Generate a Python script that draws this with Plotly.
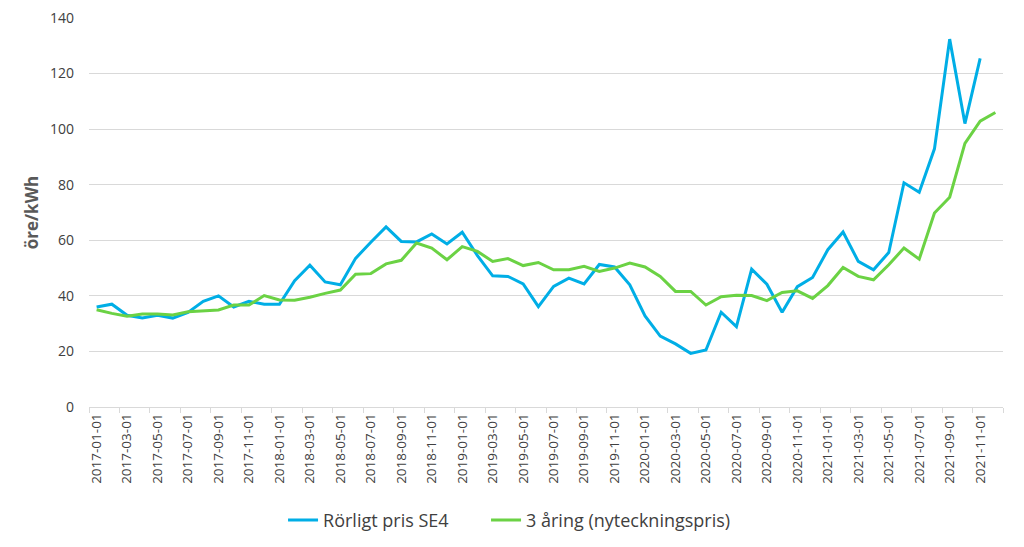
import plotly.graph_objects as go
import pandas as pd

months = pd.date_range("2017-01-01", "2021-12-01", freq="MS").strftime("%Y-%m-%d").tolist()

rorligt = [36, 37, 33, 32, 33, 32, 34, 38, 40, 36, 38, 37,
           37, 45.5, 51, 45, 44, 53.5, 59.3, 64.8, 59.6, 59.4, 62.3, 58.7,
           62.9, 54.5, 47.2, 47, 44.3, 36.1, 43.4, 46.4, 44.3, 51.3, 50.4, 44,
           32.8, 25.5, 22.7, 19.3, 20.5, 34.1, 28.9, 49.6, 44.2, 34.1, 43.3, 46.6,
           56.6, 63, 52.4, 49.4, 55.6, 80.7, 77.3, 92.9, 132.4, 102, 125.5]

tre_aring = [35, 33.7, 32.7, 33.5, 33.5, 33.1, 34.3, 34.7, 34.9, 36.7, 36.7, 40.1,
             38.5, 38.4, 39.5, 40.9, 42.1, 47.8, 48, 51.5, 52.8, 59, 57.2, 53,
             57.7, 56, 52.4, 53.4, 50.9, 52, 49.4, 49.4, 50.6, 48.8, 50, 51.8,
             50.4, 47, 41.6, 41.6, 36.7, 39.7, 40.2, 40.1, 38.3, 41.2, 41.8, 39.1,
             43.7, 50.2, 47, 45.8, 51.2, 57.2, 53.2, 69.8, 75.5, 94.9, 102.9, 106]

FONT = "Open Sans"
TXT = "#404040"

fig = go.Figure()
fig.add_trace(go.Scatter(x=months[:len(rorligt)], y=rorligt, mode="lines",
                         name="Rörligt pris SE4", legend="legend",
                         line=dict(color="#00AEE6", width=3)))
fig.add_trace(go.Scatter(x=months, y=tre_aring, mode="lines",
                         name="3 åring (nyteckningspris)", legend="legend2",
                         line=dict(color="#6BD244", width=3)))

leg_common = dict(orientation="h", xanchor="left", y=-0.291, yanchor="middle",
                  font=dict(size=18, color=TXT, family=FONT), itemwidth=30,
                  bgcolor="rgba(0,0,0,0)")

# the page body has an 8px default margin, so the figure is shrunk by 8px
# and the left/top margins are reduced by the same amount
fig.update_layout(
    width=1016, height=539,
    margin=dict(l=81, r=21, t=10, b=140, autoexpand=False),
    paper_bgcolor="white", plot_bgcolor="white",
    font=dict(family=FONT, color=TXT, size=14),
    showlegend=True,
    legend=dict(x=0.2123, **leg_common),
    legend2=dict(x=0.4344, **leg_common),
    xaxis=dict(type="category", categoryorder="array", categoryarray=months,
               range=[-0.5, len(months) - 0.5], automargin=False,
               tickmode="linear", tick0=0, dtick=2, tickson="boundaries",
               tickangle=-90, tickfont=dict(size=13.5, color=TXT, family=FONT),
               ticklabeloverflow="allow",
               showgrid=False, showline=True, linecolor="#d9d9d9", linewidth=1,
               ticks="outside", ticklen=5, tickcolor="#d9d9d9", zeroline=False),
    yaxis=dict(range=[0, 140], tick0=0, dtick=20, showgrid=True, automargin=False,
               gridcolor="#d9d9d9", gridwidth=1, zeroline=False,
               tickfont=dict(size=14, color=TXT, family=FONT),
               ticklabeloverflow="allow",
               ticklabelstandoff=14,
               title=dict(text="<b>öre/kWh</b>", standoff=7,
                          font=dict(size=17, color="#595959", family=FONT))),
)

fig.write_html("out.html")
